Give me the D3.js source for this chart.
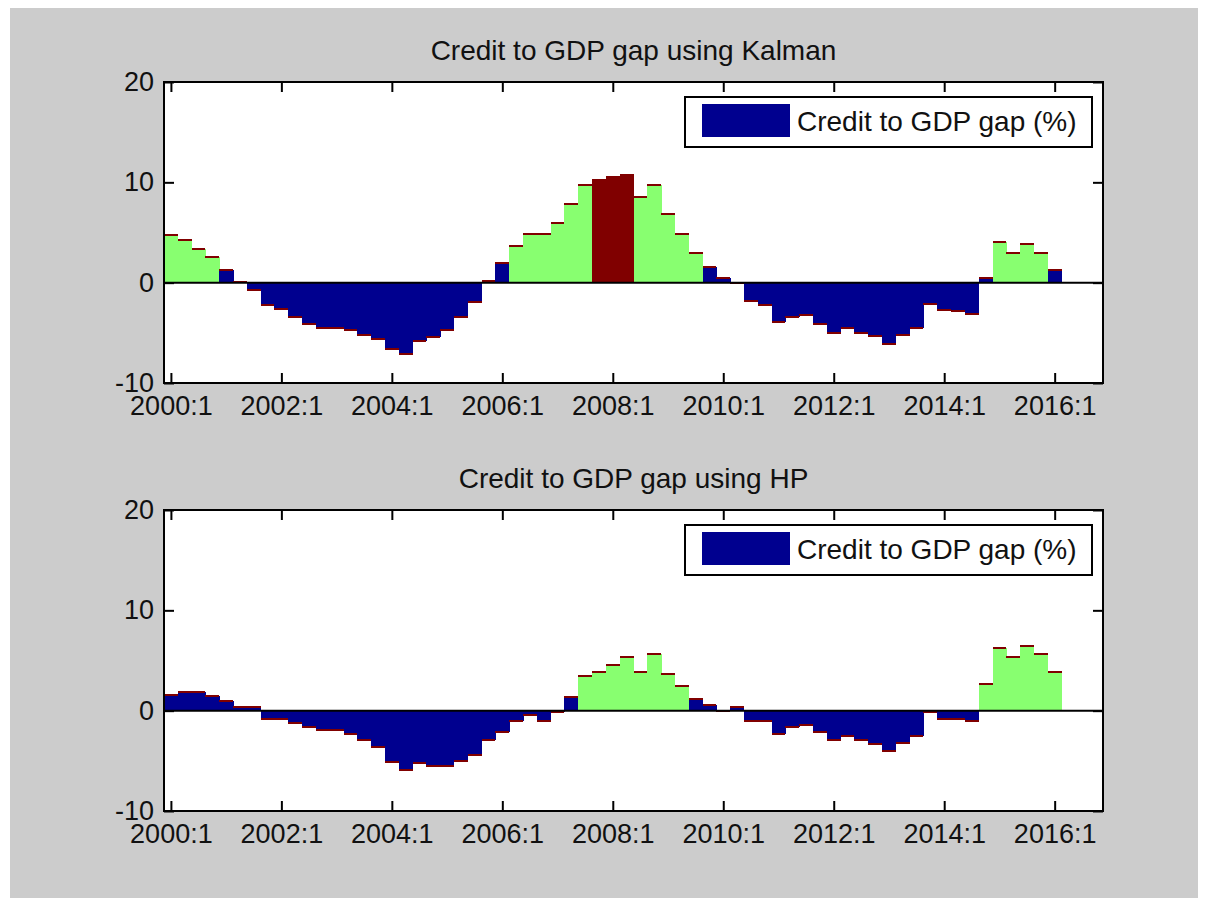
<!DOCTYPE html>
<html><head><meta charset="utf-8">
<script src="https://cdn.jsdelivr.net/npm/d3@7"></script>
<style>body{margin:0;background:#fff}text{font-family:"Liberation Sans",Arial,sans-serif;fill:#111}</style></head>
<body><svg id="c" width="1208" height="906"></svg>
<script>
// Quarterly periods 2000:1 .. 2016:1
const periods = d3.range(65).map(i => `${2000 + Math.floor(i / 4)}:${i % 4 + 1}`);
const kalmanGap = [4.72, 4.26, 3.40, 2.57, 1.29, 0.05, -0.69, -2.18, -2.61, -3.43, -4.09, -4.52, -4.52, -4.75, -5.18, -5.58, -6.63, -7.06, -5.81, -5.41, -4.69, -3.43, -1.95, 0.2, 1.95, 3.70, 4.89, 4.89, 5.97, 7.89, 9.77, 10.26, 10.49, 10.69, 8.55, 9.77, 6.80, 4.89, 3.0, 1.52, 0.46, -0.05, -1.78, -2.21, -3.9, -3.43, -3.20, -4.09, -4.98, -4.49, -4.98, -5.35, -6.07, -5.18, -4.49, -2.11, -2.77, -2.84, -3.10, 0.46, 4.09, 2.97, 3.86, 3.0, 1.29];
const hpGap = [1.58, 1.82, 1.82, 1.42, 0.99, 0.40, 0.40, -0.83, -0.83, -1.25, -1.65, -1.88, -1.88, -2.28, -2.97, -3.6, -5.08, -5.94, -5.25, -5.51, -5.51, -5.02, -4.46, -2.97, -2.11, -0.99, -0.40, -0.99, -0.13, 1.39, 3.47, 3.89, 4.55, 5.38, 3.89, 5.61, 3.66, 2.41, 1.16, 0.53, -0.05, 0.33, -1.06, -1.06, -2.31, -1.65, -1.39, -2.11, -2.97, -2.48, -2.97, -3.37, -4.03, -3.2, -2.48, -0.17, -0.83, -0.83, -1.06, 2.64, 6.27, 5.38, 6.47, 5.61, 3.89];
const xTickLabels = ["2000:1", "2002:1", "2004:1", "2006:1", "2008:1", "2010:1", "2012:1", "2014:1", "2016:1"];
const yTickValues = [-10, 0, 10, 20];
const panelTitles = ["Credit to GDP gap using Kalman", "Credit to GDP gap using HP"];
const legendLabel = "Credit to GDP gap (%)";
const thresholds = [2, 10];
const colors = {low: "#00008f", mid: "#88ff70", high: "#800000", edge: "#800000"};

const svg = d3.select("#c");
svg.append("rect").attr("x", 10).attr("y", 8).attr("width", 1188).attr("height", 890).attr("fill", "#cccccc");

const panels = [
  {data: kalmanGap, title: panelTitles[0], top: 82, bottom: 383},
  {data: hpGap, title: panelTitles[1], top: 510, bottom: 811}
];
const left = 164, right = 1103;

const x = d3.scaleLinear().domain([-0.5, 67.5]).range([left, right]);
const colorOf = v => v > thresholds[1] ? colors.high : (v > thresholds[0] ? colors.mid : colors.low);

panels.forEach(p => {
  const y = d3.scaleLinear().domain([-10, 20]).range([p.bottom, p.top]);
  const g = svg.append("g");
  g.append("rect").attr("x", left).attr("y", p.top).attr("width", right - left).attr("height", p.bottom - p.top).attr("fill", "#fff");

  const rows = p.data.map((v, i) => ({v, i}));
  g.selectAll("rect.bar").data(rows).join("rect").attr("class", "bar")
    .attr("shape-rendering", "crispEdges")
    .attr("x", d => x(d.i - 0.5))
    .attr("width", d => x(d.i + 0.5) - x(d.i - 0.5) + 0.5)
    .attr("y", d => y(Math.max(0, d.v)))
    .attr("height", d => Math.abs(y(d.v) - y(0)))
    .attr("fill", d => colorOf(d.v));
  g.selectAll("line.edge").data(rows).join("line").attr("class", "edge")
    .attr("shape-rendering", "crispEdges")
    .attr("x1", d => x(d.i - 0.5)).attr("x2", d => x(d.i + 0.5))
    .attr("y1", d => y(d.v)).attr("y2", d => y(d.v))
    .attr("stroke", colors.edge).attr("stroke-width", 2);

  // zero line
  g.append("line").attr("x1", left).attr("x2", right).attr("y1", y(0)).attr("y2", y(0))
    .attr("stroke", "#000").attr("stroke-width", 2);

  const tickIdx = xTickLabels.map(l => periods.indexOf(l));
  const fmtX = d => periods[d];

  const ax = g.append("g").attr("transform", `translate(0,${p.bottom})`)
    .call(d3.axisBottom(x).tickValues(tickIdx).tickFormat(fmtX).tickSizeInner(-10).tickSizeOuter(0).tickPadding(13));
  const axTop = g.append("g").attr("transform", `translate(0,${p.top})`)
    .call(d3.axisTop(x).tickValues(tickIdx).tickFormat("").tickSizeInner(-10).tickSizeOuter(0));
  const ay = g.append("g").attr("transform", `translate(${left},0)`)
    .call(d3.axisLeft(y).tickValues(yTickValues).tickFormat(d => String(d)).tickSizeInner(-10).tickSizeOuter(0).tickPadding(10));
  const ayR = g.append("g").attr("transform", `translate(${right},0)`)
    .call(d3.axisRight(y).tickValues(yTickValues).tickFormat("").tickSizeInner(-10).tickSizeOuter(0));
  [ax, axTop, ay, ayR].forEach(a => {
    a.select(".domain").remove();
    a.selectAll(".tick line").attr("stroke", "#000").attr("stroke-width", 2);
    a.selectAll(".tick text").style("font-size", "27px").attr("fill", "#111");
  });
  g.append("rect").attr("x", left).attr("y", p.top).attr("width", right - left).attr("height", p.bottom - p.top)
    .attr("fill", "none").attr("stroke", "#000").attr("stroke-width", 2);

  g.append("text").attr("x", (left + right) / 2).attr("y", p.top - 22).attr("text-anchor", "middle")
    .style("font-size", "28px").text(p.title);

  // legend
  const lg = g.append("g").attr("transform", `translate(685,${p.top + 15})`);
  lg.append("rect").attr("width", 407).attr("height", 50).attr("fill", "#fff").attr("stroke", "#000").attr("stroke-width", 2);
  lg.append("rect").attr("x", 17).attr("y", 7).attr("width", 88).attr("height", 33).attr("fill", colors.low);
  lg.append("text").attr("x", 112).attr("y", 24).attr("dy", "0.35em").style("font-size", "28px").text(legendLabel);
});
</script></body></html>
